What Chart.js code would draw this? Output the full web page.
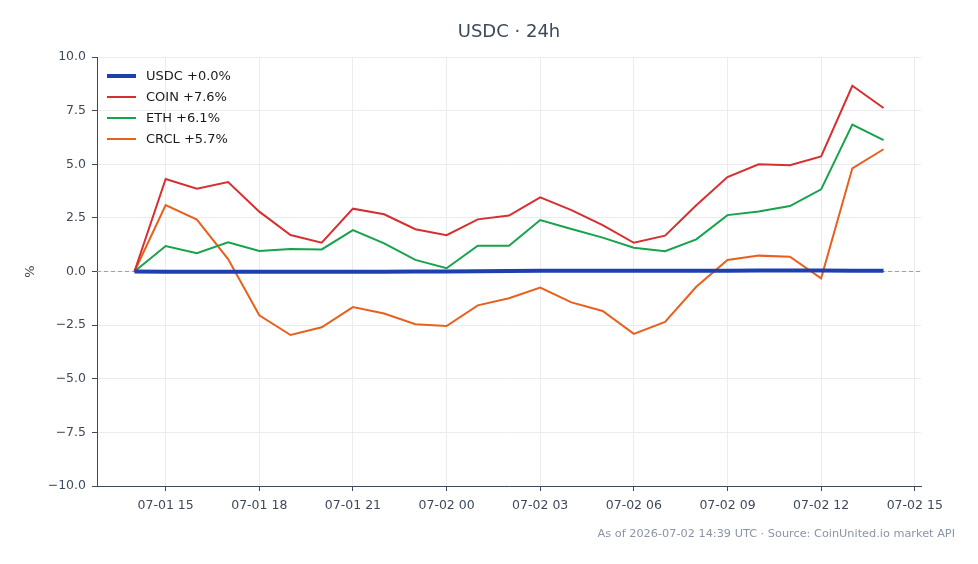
<!DOCTYPE html>
<html>
<head>
<meta charset="utf-8">
<script src="https://cdn.jsdelivr.net/npm/chart.js@4.4.1/dist/chart.umd.min.js"></script>
<style>
  html, body { margin: 0; padding: 0; background: #ffffff; }
  #wrap { width: 978px; height: 564px; }
</style>
</head>
<body>
<div id="wrap"><canvas id="c" width="978" height="564"></canvas></div>
<script>
// Hours since 2026-07-01 00:00 UTC (hourly, 07-01 14:00 .. 07-02 14:00)
const hours = [14,15,16,17,18,19,20,21,22,23,24,25,26,27,28,29,30,31,32,33,34,35,36,37,38];
const usdc = [0,-0.01,-0.01,-0.01,-0.01,-0.01,-0.01,-0.01,-0.01,0,0,0.01,0.02,0.03,0.03,0.03,0.03,0.03,0.03,0.04,0.05,0.05,0.05,0.04,0.03];
const coin = [0,4.31,3.86,4.17,2.79,1.70,1.34,2.93,2.67,1.97,1.69,2.43,2.61,3.46,2.86,2.16,1.34,1.67,3.09,4.40,5.00,4.95,5.36,8.66,7.62];
const eth  = [0,1.19,0.85,1.36,0.96,1.05,1.03,1.93,1.31,0.54,0.15,1.20,1.20,2.40,1.98,1.58,1.11,0.95,1.50,2.63,2.80,3.05,3.83,6.85,6.12];
const crcl = [0,3.10,2.42,0.58,-2.04,-2.96,-2.60,-1.66,-1.96,-2.46,-2.54,-1.58,-1.25,-0.75,-1.44,-1.84,-2.91,-2.35,-0.71,0.54,0.74,0.69,-0.32,4.81,5.70];
const seriesLabels = ['USDC +0.0%','COIN +7.6%','ETH +6.1%','CRCL +5.7%'];
const xTicks = [15,18,21,24,27,30,33,36,39];
const yTicks = [-10,-7.5,-5,-2.5,0,2.5,5,7.5,10];
const titleText = 'USDC \u00b7 24h';
const footerText = 'As of 2026-07-02 14:39 UTC \u00b7 Source: CoinUnited.io market API';
const yAxisLabel = '%';

const FONT = "'DejaVu Sans', sans-serif";
const TEXT = '#3d4a5c';

function pts(vals) { return vals.map((v, i) => ({ x: hours[i], y: v })); }
function fmtHour(h) {
  const day = h < 24 ? '07-01' : '07-02';
  const hh = String(Math.round(h) % 24).padStart(2, '0');
  return day + ' ' + hh;
}

const decor = {
  id: 'decor',
  beforeDatasetsDraw(chart) {
    const { ctx, chartArea } = chart;
    const y0 = chart.scales.y.getPixelForValue(0);
    ctx.save();
    ctx.strokeStyle = '#9aa3b5';
    ctx.lineWidth = 1;
    ctx.setLineDash([4, 3]);
    ctx.beginPath();
    ctx.moveTo(chartArea.left, y0);
    ctx.lineTo(chartArea.right, y0);
    ctx.stroke();
    ctx.restore();
  },
  afterDraw(chart) {
    const { ctx, chartArea } = chart;
    ctx.save();
    // title
    ctx.fillStyle = TEXT;
    ctx.font = '18px ' + FONT;
    ctx.textAlign = 'center';
    ctx.textBaseline = 'middle';
    ctx.fillText(titleText, (chartArea.left + chartArea.right) / 2, 32);
    // y label
    ctx.save();
    ctx.translate(31, (chartArea.top + chartArea.bottom) / 2);
    ctx.rotate(-Math.PI / 2);
    ctx.font = '13px ' + FONT;
    ctx.fillText(yAxisLabel, 0, 0);
    ctx.restore();
    // footer
    ctx.fillStyle = '#8a94a6';
    ctx.font = '11.3px ' + FONT;
    ctx.textAlign = 'right';
    ctx.fillText(footerText, 955, 534);
    // legend
    const ds = chart.data.datasets;
    ctx.textAlign = 'left';
    ctx.font = '13px ' + FONT;
    ds.forEach((d, i) => {
      const y = chartArea.top + 19 + i * 21;
      ctx.strokeStyle = d.borderColor;
      ctx.lineWidth = d.borderWidth;
      ctx.setLineDash([]);
      ctx.beginPath();
      ctx.moveTo(chartArea.left + 10, y);
      ctx.lineTo(chartArea.left + 39, y);
      ctx.stroke();
      ctx.fillStyle = '#1a1a1a';
      ctx.fillText(d.label, chartArea.left + 49, y + 1);
    });
    ctx.restore();
  }
};

new Chart(document.getElementById('c'), {
  type: 'line',
  data: {
    datasets: [
      { label: seriesLabels[0], data: pts(usdc), borderColor: '#1e40af', borderWidth: 4 },
      { label: seriesLabels[1], data: pts(coin), borderColor: '#d62f2f', borderWidth: 2 },
      { label: seriesLabels[2], data: pts(eth),  borderColor: '#16a34a', borderWidth: 2 },
      { label: seriesLabels[3], data: pts(crcl), borderColor: '#e8601c', borderWidth: 2 }
    ]
  },
  options: {
    responsive: false,
    devicePixelRatio: 1,
    animation: false,
    events: [],
    elements: { point: { radius: 0 }, line: { tension: 0, borderCapStyle: 'butt' } },
    layout: { padding: { top: 57, right: 57, bottom: 0, left: 0 } },
    plugins: { legend: { display: false }, title: { display: false }, tooltip: { enabled: false } },
    scales: {
      x: {
        type: 'linear',
        min: 12.8,
        max: 39.2,
        afterBuildTicks(scale) { scale.ticks = xTicks.map(v => ({ value: v })); },
        afterFit(scale) { scale.height = 78; },
        ticks: {
          callback: (v) => fmtHour(v),
          color: TEXT,
          font: { family: FONT, size: 12.5 },
          padding: 7,
          maxRotation: 0,
          autoSkip: false
        },
        grid: { color: '#e9ecf1', tickColor: TEXT, tickLength: 5, lineWidth: 1 },
        border: { color: TEXT, width: 1 }
      },
      y: {
        min: -10,
        max: 10,
        afterBuildTicks(scale) { scale.ticks = yTicks.map(v => ({ value: v })); },
        afterFit(scale) { scale.width = 97; },
        ticks: {
          callback: (v) => (v < 0 ? '\u2212' + Math.abs(v).toFixed(1) : v.toFixed(1)),
          color: TEXT,
          font: { family: FONT, size: 12.5 },
          padding: 6
        },
        grid: { color: '#e9ecf1', tickColor: TEXT, tickLength: 5, lineWidth: 1 },
        border: { color: TEXT, width: 1 }
      }
    }
  },
  plugins: [decor]
});
</script>
</body>
</html>
